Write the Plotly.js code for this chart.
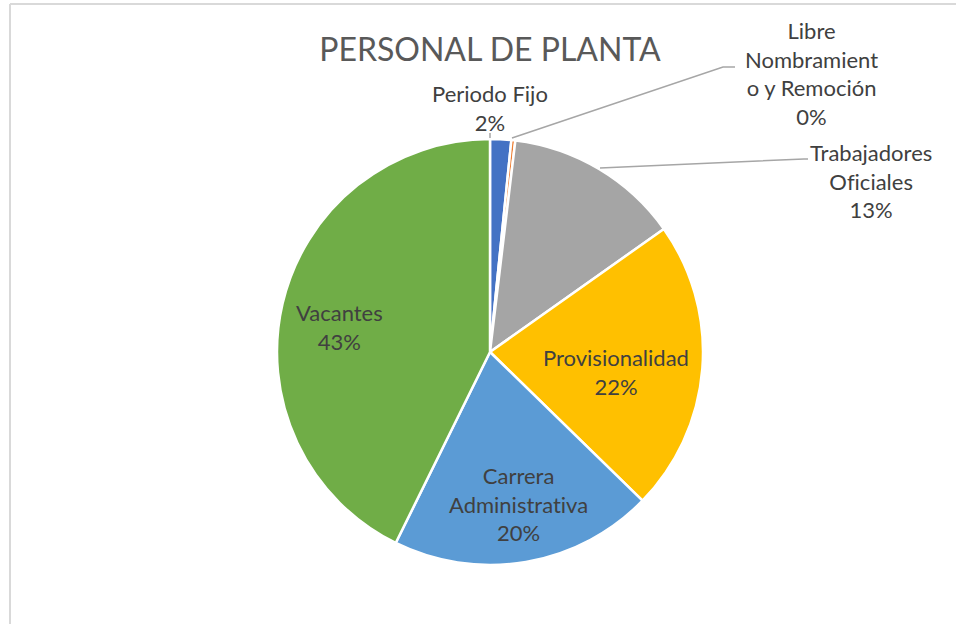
<!DOCTYPE html>
<html>
<head>
<meta charset="utf-8">
<script src="https://cdn.plot.ly/plotly-3.0.1.min.js"></script>
<style>
html,body{margin:0;padding:0;background:#fff;}
#chart{width:956px;height:624px;}
svg text{font-variant-ligatures:none;font-feature-settings:"liga" 0;}
</style>
</head>
<body>
<div id="chart"></div>
<script>
// Data
const categories = ["Periodo Fijo", "Libre Nombramiento y Remoción", "Trabajadores Oficiales", "Provisionalidad", "Carrera Administrativa", "Vacantes"];
const values = [1.6, 0.3, 13.3, 22.1, 20.0, 42.7];
const labelTexts = ["Periodo Fijo", "Libre<br>Nombramient<br>o y Remoción", "Trabajadores<br>Oficiales", "Provisionalidad", "Carrera<br>Administrativa", "Vacantes"];
const colors = ["#4472C4", "#ED7D31", "#A5A5A5", "#FFC000", "#5B9BD5", "#70AD47"];

const W = 956, H = 624;
const px = x => x / W;
const py = y => 1 - y / H;

const total = values.reduce((a, b) => a + b, 0);
const pct = values.map(v => Math.round(v / total * 100) + "%");

// label centre positions (pixels)
const labelPos = [[490, 108], [811, 73], [871, 181], [616, 372], [518, 504], [339, 327]];

const font = "Lato, 'Open Sans', sans-serif";
const annotations = categories.map((c, i) => ({
  xref: "paper", yref: "paper",
  x: px(labelPos[i][0]), y: py(labelPos[i][1]),
  xanchor: "center", yanchor: "middle",
  text: labelTexts[i] + "<br>" + pct[i],
  showarrow: false, align: "center",
  font: {family: font, size: 22, color: "#404040"}
}));

const grey = "#A6A6A6";
const shapes = [
  {type: "line", xref: "paper", yref: "paper", x0: px(10), x1: px(10), y0: py(4), y1: py(624), line: {color: "#D9D9D9", width: 2}},
  {type: "line", xref: "paper", yref: "paper", x0: px(10), x1: px(956), y0: py(4), y1: py(4), line: {color: "#D9D9D9", width: 2}},
  {type: "path", xref: "paper", yref: "paper", path: `M ${px(512)} ${py(138)} L ${px(723)} ${py(67)} L ${px(735)} ${py(67)}`, line: {color: grey, width: 1.5}},
  {type: "path", xref: "paper", yref: "paper", path: `M ${px(600)} ${py(168)} L ${px(804)} ${py(159)} L ${px(808)} ${py(159)}`, line: {color: grey, width: 1.5}},
  {type: "line", xref: "paper", yref: "paper", x0: px(490), x1: px(490), y0: py(133), y1: py(138), line: {color: grey, width: 1.5}}
];

const trace = {
  type: "pie",
  labels: categories,
  values: values,
  sort: false,
  direction: "clockwise",
  rotation: 0,
  textinfo: "none",
  hoverinfo: "label+percent",
  marker: {colors: colors, line: {color: "#FFFFFF", width: 2.5}},
  domain: {x: [px(490 - 213), px(490 + 213)], y: [py(565), py(139)]},
  showlegend: false
};

const layout = {
  width: W, height: H,
  margin: {l: 0, r: 0, t: 0, b: 0},
  paper_bgcolor: "#FFFFFF",
  title: {text: "PERSONAL DE PLANTA", x: px(490), xanchor: "center", y: py(50), yanchor: "middle",
          font: {family: font, size: 32, color: "#595959"}},
  annotations: annotations,
  shapes: shapes,
  showlegend: false
};

Plotly.newPlot("chart", [trace], layout, {displayModeBar: false, staticPlot: true});
</script>
</body>
</html>
